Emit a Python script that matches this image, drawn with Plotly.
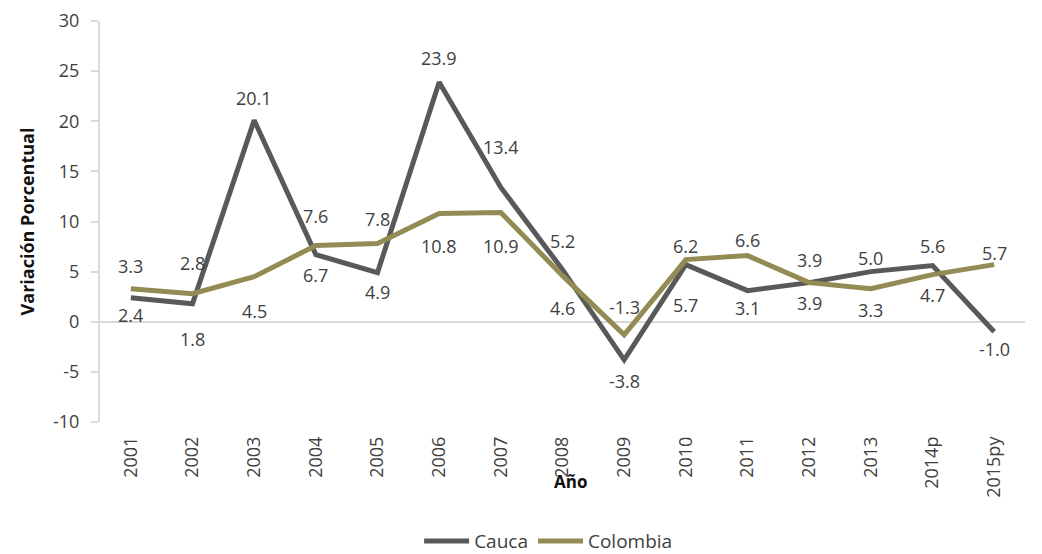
import plotly.graph_objects as go

# Variación porcentual anual del PIB: Cauca vs Colombia
years = ["2001", "2002", "2003", "2004", "2005", "2006", "2007", "2008",
         "2009", "2010", "2011", "2012", "2013", "2014p", "2015py"]
cauca = [2.4, 1.8, 20.1, 6.7, 4.9, 23.9, 13.4, 5.2, -3.8, 5.7, 3.1, 3.9, 5.0, 5.6, -1.0]
colombia = [3.3, 2.8, 4.5, 7.6, 7.8, 10.8, 10.9, 4.6, -1.3, 6.2, 6.6, 3.9, 3.3, 4.7, 5.7]
y_ticks = [-10, -5, 0, 5, 10, 15, 20, 25, 30]

COLOR_CAUCA = "#595959"
COLOR_COLOMBIA = "#948A54"
FONT = "Open Sans, Noto Sans, sans-serif"

# vertical offset (px) of each data label from its point, Excel-style placement
cauca_label_shift = [-17, -35, 22, -20, -19, 24, 40, 29, -21, -40, -17, -20, 14, 20, -17]
colombia_label_shift = [23, 31, -34, 30, 25, -33, -34, -32, 28, 14, 16, 23, -21, -20, 12]

fig = go.Figure()
fig.add_trace(go.Scatter(
    x=years, y=cauca, name="Cauca", mode="lines",
    line=dict(color=COLOR_CAUCA, width=5),
))
fig.add_trace(go.Scatter(
    x=years, y=colombia, name="Colombia", mode="lines",
    line=dict(color=COLOR_COLOMBIA, width=5),
))

annotations = []
for values, shifts in ((cauca, cauca_label_shift), (colombia, colombia_label_shift)):
    # category index as x so numeric-looking year labels are not read as numbers
    for idx, (value, shift) in enumerate(zip(values, shifts)):
        annotations.append(dict(
            x=idx, y=value, xref="x", yref="y",
            text=f"{value:.1f}", showarrow=False, yshift=shift,
            font=dict(family=FONT, size=18, color="#404040"),
        ))

annotations.append(dict(
    text="<b>Año</b>", xref="paper", yref="paper", x=0.509, y=-0.182,
    showarrow=False, font=dict(family=FONT, size=17, color="#111111"),
))

# page body adds an 8px margin, so the figure is sized to fit inside the window
fig.update_layout(
    width=1034, height=546,
    margin=dict(l=92, r=17, t=13, b=132, autoexpand=False),
    paper_bgcolor="white", plot_bgcolor="white",
    font=dict(family=FONT, color="#404040"),
    showlegend=True,
    legend=dict(orientation="h", x=0.485, xanchor="center", y=-0.297, yanchor="middle",
                font=dict(family=FONT, size=19, color="#404040"),
                itemwidth=45, tracegroupgap=0),
    annotations=annotations,
    xaxis=dict(
        type="category", range=[-0.5, 14.5], showgrid=False, showline=False,
        tickangle=-90, ticks="", ticklabelstandoff=10, automargin=False,
        tickfont=dict(family=FONT, size=18, color="#404040"),
    ),
    yaxis=dict(
        range=[-10, 30], tickvals=y_ticks, ticktext=[str(v) for v in y_ticks],
        showgrid=False, automargin=False, ticklabeloverflow="allow",
        showline=True, linecolor="#d9d9d9", linewidth=2,
        ticks="outside", ticklen=7, tickcolor="#d9d9d9", tickwidth=2,
        ticklabelstandoff=8,
        zeroline=True, zerolinecolor="#d9d9d9", zerolinewidth=2,
        tickfont=dict(family=FONT, size=18, color="#404040"),
        title=dict(text="<b>Variación Porcentual</b>", standoff=14,
                   font=dict(family=FONT, size=18, color="#111111")),
    ),
)

fig.write_html("out.html")
